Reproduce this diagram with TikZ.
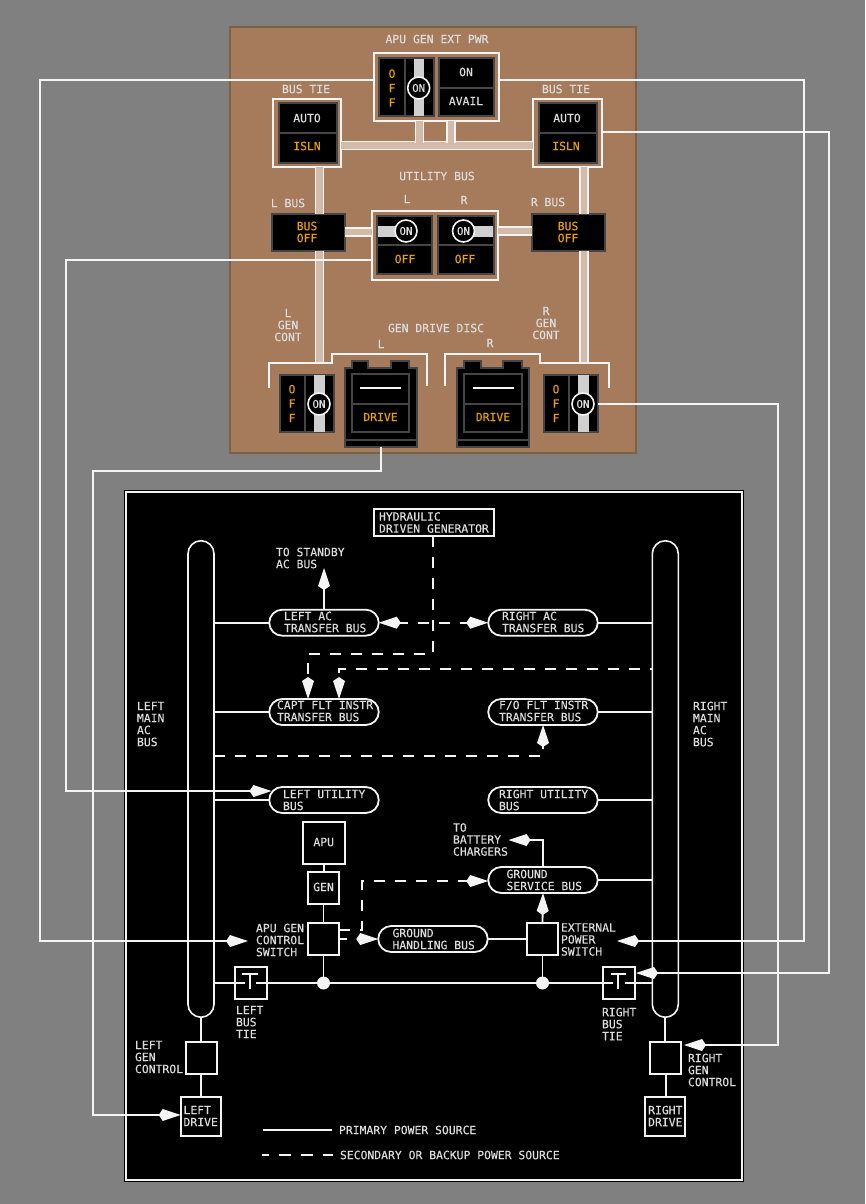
\documentclass[tikz,border=0pt]{standalone}
\usepackage{fontspec}
\setmonofont[FakeBold=0.25]{DejaVu Sans Mono}
\usetikzlibrary{arrows.meta,calc}
\definecolor{bggray}{HTML}{808080}
\definecolor{brownpanel}{HTML}{A67B5B}
\definecolor{brownedge}{HTML}{7D6143}
\definecolor{tanbeam}{HTML}{D2BBA8}
\definecolor{wline}{HTML}{F4F4F4}
\definecolor{ltext}{HTML}{DCDCDC}
\definecolor{amber}{HTML}{E8A000}
\definecolor{darkb}{HTML}{454545}
\definecolor{barg}{HTML}{CFCFCF}
\tikzset{
  x=1pt,y=-1pt,
  txt/.style={font=\ttfamily\fontsize{11.4}{12}\selectfont,text=ltext,inner sep=0pt,outer sep=0pt,align=left},
  ptxt/.style={txt,text=ltext,align=center},
  atxt/.style={txt,text=amber,align=center},
  wbox/.style={draw=wline,line width=2pt,inner sep=0pt,outer sep=0pt,minimum width=#1},
  wbox/.default=30,
  pill/.style={draw=wline,line width=1.8pt,rounded corners=13pt,minimum width=109.5,minimum height=26,inner sep=0pt,outer sep=0pt},
  mainbus/.style={draw=wline,line width=1.6pt,rounded corners=13pt,minimum width=26,minimum height=476.5,inner sep=0pt,outer sep=0pt},
  sw/.style={draw=darkb,fill=black,line width=2pt,inner sep=0pt,outer sep=0pt},
  knob/.style={circle,draw=wline,fill=black,line width=1.6pt,minimum size=22,inner sep=0pt,outer sep=0pt,font=\ttfamily\fontsize{10.8}{12}\selectfont,text=ltext},
  wire/.style={draw=wline,line width=1.8pt},
  ghost/.style={dash pattern=on 11pt off 10pt,draw=wline,line width=1.8pt},
  kt/.style={-{Kite[length=22pt,width=12pt,inset=4pt,fill=wline]}},
  ktb/.style={{Kite[length=22pt,width=12pt,inset=4pt,fill=wline]}-{Kite[length=22pt,width=12pt,inset=4pt,fill=wline]}},
  beam/.style={draw=wline,double=tanbeam,line width=1.4pt,double distance=6.6pt},
  dark/.style={draw=darkb,line width=2pt},
  bar/.style={fill=barg,draw=none},
  junction/.style={circle,fill=wline,draw=none,minimum size=13,inner sep=0pt,outer sep=0pt}
}
\begin{document}
\begin{tikzpicture}
\useasboundingbox (0,0) rectangle (865,1204);
\fill[bggray] (0,0) rectangle (865,1204);
% brown panel
\node[draw=brownedge,fill=brownpanel,line width=2pt,minimum width=406,minimum height=426,inner sep=0pt] (panel) at (433,240) {};
% black panel
\node[draw=black,fill=black,line width=1pt,minimum width=619,minimum height=691,inner sep=0pt] (blackp) at (434,836) {};
\node[draw=wline,line width=2pt,minimum width=616,minimum height=688,inner sep=0pt] (blackf) at (434,836) {};

% ---------- top panel: frames
\node[wbox,minimum width=125,minimum height=68] (apuframe) at (436.3,87.5) {};
\node[wbox,minimum width=68,minimum height=68] (ltieframe) at (307,133) {};
\node[wbox,minimum width=69,minimum height=68] (rtieframe) at (567,133) {};
\node[wbox,minimum width=126,minimum height=69] (utilframe) at (435,245.5) {};
\node[sw,minimum width=73,minimum height=37] (lbus) at (308,232) {};
\node[sw,minimum width=73,minimum height=37] (rbus) at (568,232) {};
% beams
\draw[beam] (ltieframe.east |- 0,145.5) -- (rtieframe.west |- 0,145.5);
\coordinate (stubA) at (419.5,145.5);
\coordinate (stubB) at (451,145.5);
\draw[beam] (stubA |- apuframe.south) -- (stubA);
\draw[beam] (stubB |- apuframe.south) -- (stubB);
\fill[tanbeam] (341.5,143) rectangle (532,148.5);
\fill[tanbeam] (416.5,122) rectangle (422.5,148.5);
\fill[tanbeam] (448,122) rectangle (454,148.5);
\coordinate (lbeamEnd) at (319.2,362);
\coordinate (rbeamEnd) at (583.8,362);
\draw[beam] (lbeamEnd |- ltieframe.south) -- (lbeamEnd |- lbus.north);
\draw[beam] (lbeamEnd |- lbus.south) -- (lbeamEnd);
\draw[beam] (rbeamEnd |- rtieframe.south) -- (rbeamEnd |- rbus.north);
\draw[beam] (rbeamEnd |- rbus.south) -- (rbeamEnd);
\draw[beam] (lbus.east |- 0,232) -- (utilframe.west |- 0,232);
\draw[beam] (rbus.west |- 0,231) -- (utilframe.east |- 0,231);

% APU switch
\node[sw,minimum width=55,minimum height=58] (apusw) at (406,87.5) {};
\node[sw,minimum width=55,minimum height=58] (extsw) at (466,87.5) {};
\fill[bar] (413.5,59) rectangle (424,116.5);
\draw[dark] (405,58.5) -- (405,116.5);
\draw[dark] (extsw.west |- 0,88) -- (extsw.east |- 0,88);
\node[knob] (apuknob) at (418.7,88) {ON};
\node[atxt] (off1) at (392,88) {O\\[2.5pt]F\\[2.5pt]F};
\node[ptxt] (extOn) at (466,72) {ON};
\node[ptxt] (extAv) at (466,101) {AVAIL};
\node[ptxt] (lapu) at (437,39) {APU GEN EXT PWR};

% bus ties
\node[sw,minimum width=58,minimum height=59] (ltie) at (307.5,133) {};
\draw[dark] (ltie.west |- 0,133) -- (ltie.east |- 0,133);
\node[ptxt] (lauto) at (307,118) {AUTO};
\node[atxt] (lisln) at (307,146) {ISLN};
\node[sw,minimum width=58,minimum height=59] (rtie) at (567.5,133) {};
\draw[dark] (rtie.west |- 0,133) -- (rtie.east |- 0,133);
\node[ptxt] (rauto) at (567,118) {AUTO};
\node[atxt] (risln) at (566,146) {ISLN};
\node[ptxt] (ltl) at (306,89) {BUS TIE};
\node[ptxt] (rtl) at (566,89) {BUS TIE};

% utility bus
\node[ptxt] (utl) at (437,176) {UTILITY BUS};
\node[ptxt] (ull) at (407,199) {L};
\node[ptxt] (url) at (464,200) {R};
\node[ptxt] (lbl) at (288,203) {L BUS};
\node[ptxt] (rbl) at (548,202) {R BUS};
\node[atxt] (lbt) at (307,232) {BUS\\OFF};
\node[atxt] (rbt) at (568,232) {BUS\\OFF};
\node[sw,minimum width=55,minimum height=58] (usl) at (404.7,245.3) {};
\node[sw,minimum width=56,minimum height=58] (usr) at (466,245.3) {};
\fill[bar] (378,226) rectangle (406,237);
\fill[bar] (463,226) rectangle (492.5,237);
\draw[dark] (usl.west |- 0,245) -- (usl.east |- 0,245);
\draw[dark] (usr.west |- 0,245) -- (usr.east |- 0,245);
\node[knob] (kl) at (406,231) {ON};
\node[knob] (kr) at (463.5,231) {ON};
\node[atxt] (ofl) at (405,259) {OFF};
\node[atxt] (ofr) at (465,259) {OFF};

% gen controls
\node[ptxt] (lgc) at (288,325) {L\\GEN\\CONT};
\node[ptxt] (rgc) at (546,323) {R\\GEN\\CONT};
\node[ptxt] (gdd) at (436,328) {GEN DRIVE DISC};
\node[ptxt] (gl) at (381,344) {L};
\node[ptxt] (gr) at (490,343) {R};
\draw[draw=wline,line width=1.8pt] (269,388) -- (269,363) -- (333,363);
\draw[draw=wline,line width=1.8pt] (332,363) -- (332,354) -- (427,354) -- (427,386);
\draw[draw=wline,line width=1.8pt] (445,386) -- (445,354) -- (540,354) -- (540,363) -- (609,363) -- (609,388);
\node[sw,minimum width=54,minimum height=57] (lgs) at (306.5,403.3) {};
\fill[bar] (314,375) rectangle (325,431.5);
\draw[dark] (305,374) -- (305,432);
\node[knob] (klg) at (319,404) {ON};
\node[atxt] (lgo) at (292,403.5) {O\\[2.5pt]F\\[2.5pt]F};
\node[sw,minimum width=54,minimum height=57] (rgs) at (571,403.3) {};
\fill[bar] (578.3,375) rectangle (589,431.5);
\draw[dark] (569,374) -- (569,432);
\node[knob] (krg) at (583,404) {ON};
\node[atxt] (rgo) at (556,403.5) {O\\[2.5pt]F\\[2.5pt]F};

% drive units
\node[sw,minimum width=16,minimum height=10] (lt1) at (360,366) {};
\node[sw,minimum width=18,minimum height=10] (lt2) at (400,366) {};
\node[sw,minimum width=72,minimum height=78.5] (ldrv) at (380.7,407.5) {};
\fill[black] (353,366) rectangle (367,371) (392,366) rectangle (408,371);
\node[sw,minimum width=57,minimum height=58] (ldi) at (380.5,403) {};
\draw[dark] (ldrv.west |- 0,440) -- (ldrv.east |- 0,440);
\draw[dark] (ldi.west |- 0,404) -- (ldi.east |- 0,404);
\draw[draw=wline,line width=2pt] (360,388) -- (401,388);
\node[atxt] (ldt) at (380.5,417) {DRIVE};
\node[sw,minimum width=17,minimum height=10] (rt1) at (472.5,366) {};
\node[sw,minimum width=19,minimum height=10] (rt2) at (512.5,366) {};
\node[sw,minimum width=72,minimum height=78.5] (rdrv) at (493,407.5) {};
\fill[black] (465,366) rectangle (480,371) (504,366) rectangle (521,371);
\node[sw,minimum width=58,minimum height=58] (rdi) at (493,403) {};
\draw[dark] (rdrv.west |- 0,440) -- (rdrv.east |- 0,440);
\draw[dark] (rdi.west |- 0,404) -- (rdi.east |- 0,404);
\draw[draw=wline,line width=2pt] (473,388) -- (514,388);
\node[atxt] (rdt) at (493,417) {DRIVE};

% ---------- lower diagram
\node[mainbus] (lmain) at (201,779) {};
\node[mainbus] (rmain) at (665.3,779) {};
\node[wbox,minimum width=120,minimum height=27] (hyd) at (433.7,522.7) {};
\node[txt,anchor=west] (hydt) at (379,522.5) {HYDRAULIC\\DRIVEN GENERATOR};
\node[pill] (lac) at (324,622.7) {};
\node[pill] (rac) at (543,622.7) {};
\node[pill] (capt) at (324,712) {};
\node[pill] (fo) at (543,712) {};
\node[pill] (lut) at (324,800) {};
\node[pill] (rut) at (543,800) {};
\node[pill] (gsb) at (543,880) {};
\node[pill] (ghb) at (433,939) {};
\node[txt,anchor=west] at (284,622) {LEFT AC\\TRANSFER BUS};
\node[txt,anchor=west] at (502,622) {RIGHT AC\\TRANSFER BUS};
\node[txt,anchor=west] at (277,711) {CAPT FLT INSTR\\TRANSFER BUS};
\node[txt,anchor=west] at (499,711) {F/O FLT INSTR\\TRANSFER BUS};
\node[txt,anchor=west] at (283,800) {LEFT UTILITY\\BUS};
\node[txt,anchor=west] at (499,800) {RIGHT UTILITY\\BUS};
\node[txt,anchor=west] at (506.5,880) {GROUND\\SERVICE BUS};
\node[txt,anchor=west] at (392.5,939) {GROUND\\HANDLING BUS};
\node[txt,anchor=west] (lma) at (137,724) {LEFT\\MAIN\\AC\\BUS};
\node[txt,anchor=west] (rma) at (693,724) {RIGHT\\MAIN\\AC\\BUS};
\node[txt,anchor=west] (stby) at (276,558) {TO STANDBY\\AC BUS};
\node[txt,anchor=west] (bat) at (453,839.5) {TO\\BATTERY\\CHARGERS};
\node[wbox,minimum width=42.5,minimum height=42] (apu) at (324,843) {};
\node[txt] at (323.7,842) {APU};
\node[wbox,minimum width=31.5,minimum height=32] (gen) at (323.5,888) {};
\node[txt] at (323.5,887) {GEN};
\node[wbox,minimum width=31.5,minimum height=32] (apusw2) at (323.5,939) {};
\node[wbox,minimum width=31.5,minimum height=32] (extsw2) at (542.5,939) {};
\node[txt,anchor=west] (apul) at (256,940) {APU GEN\\CONTROL\\SWITCH};
\node[txt,anchor=west] (extl) at (561,939.5) {EXTERNAL\\POWER\\SWITCH};
\node[junction] (jl) at (323.5,983) {};
\node[junction] (jr) at (542.5,983) {};
\node[wbox,minimum width=32,minimum height=32.5] (ltb) at (250.7,983) {};
\node[wbox,minimum width=32,minimum height=32.5] (rtb) at (618.7,983) {};
\node[txt,anchor=west] (ltbl) at (236,1022) {LEFT\\BUS\\TIE};
\node[txt,anchor=west] (rtbl) at (602,1024) {RIGHT\\BUS\\TIE};
\node[wbox,minimum width=31,minimum height=32] (lgcb) at (201.2,1058) {};
\node[wbox,minimum width=31,minimum height=32] (rgcb) at (665.7,1058) {};
\node[txt,anchor=west] (lgcl) at (135,1057) {LEFT\\GEN\\CONTROL};
\node[txt,anchor=west] (rgcl) at (688,1070) {RIGHT\\GEN\\CONTROL};
\node[wbox,minimum width=40,minimum height=39.5] (ldbox) at (200.7,1116.5) {};
\node[wbox,minimum width=40,minimum height=39.5] (rdbox) at (665.3,1116.5) {};
\node[txt] at (200.7,1116) {LEFT\\DRIVE};
\node[txt] at (665.3,1116) {RIGHT\\DRIVE};
\node[txt,anchor=west] (leg1) at (339,1130) {PRIMARY POWER SOURCE};
\node[txt,anchor=west] (leg2) at (340,1155) {SECONDARY OR BACKUP POWER SOURCE};
\coordinate (leg1s) at (263,1130);
\coordinate (leg2s) at (262,1155);
\coordinate (leg2e) at (332.5,1155);

% primary connectors
\draw[wire] (lmain.east |- lac.west) -- (lac.west);
\draw[wire] (rac.east) -- (rmain.west |- rac.east);
\draw[wire] (lmain.east |- capt.west) -- (capt.west);
\draw[wire] (fo.east) -- (rmain.west |- fo.east);
\draw[wire] (lmain.east |- lut.west) -- (lut.west);
\draw[wire] (rut.east) -- (rmain.west |- rut.east);
\draw[wire] (gsb.east) -- (rmain.west |- gsb.east);
\draw[wire,kt] (lac.north) -- (lac.north |- 0,568);
\draw[wire] (apu.south) -- (apu.south |- gen.north);
\draw[wire] (gen.south) -- (apusw2.north);
\draw[wire] (apusw2.south) -- (jl);
\draw[wire] (extsw2.south) -- (jr);
\draw[wire] (ghb.east) -- (extsw2.west);
\draw[wire,kt] (extsw2.north) -- (gsb.south);
\coordinate (batturn) at (543,840);
\draw[wire,kt] (gsb.north) -- (batturn) -- (508.5,840);
\draw[wire] (lmain.east |- jl) -- (245,983);
\draw[wire] (256,983) -- (jl);
\draw[wire] (jl) -- (jr);
\draw[wire] (jr) -- (612.7,983);
\draw[wire] (625,983) -- (rmain.west |- jr);
\draw[draw=wline,line width=1.8pt] (242,974) -- (258,974) (250,974) -- (250,989);
\draw[draw=wline,line width=1.8pt] (610.5,974) -- (626,974) (618.3,974) -- (618.3,989);
\draw[wire] (lmain.south) -- (lgcb.north -| lmain.south);
\draw[wire] (lgcb.south) -- (ldbox.north -| lgcb.south);
\draw[wire] (rmain.south) -- (rgcb.north -| rmain.south);
\draw[wire] (rgcb.south) -- (rdbox.north -| rgcb.south);
\draw[wire] (leg1s) -- (332,1130);
\draw[ghost,dash pattern=on 12pt off 10pt,dash phase=5.3pt] (leg2s) -- (leg2e);

% secondary connectors
\coordinate (hydd) at (433,654);
\coordinate (capta) at (308,654);
\coordinate (captb) at (339,669);
\coordinate (lacd) at (214,756);
\coordinate (fod) at (543,756);
\coordinate (gsbd) at (362,881);
\coordinate (apud) at (362,930);
\draw[ghost,kt] (hyd.south -| hydd) -- (hydd) -- (capta) -- (capta |- capt.north);
\draw[ghost,dash phase=9pt,kt] (rmain.west |- captb) -- (captb) -- (captb |- capt.north);
\draw[ghost,dash phase=3pt,ktb] (lac.east) -- (rac.west);
\draw[ghost,kt] (lmain.east |- lacd) -- (fod) -- (fo.south);
\draw[ghost,kt] (apusw2.east |- apud) -- (apud) -- (gsbd) -- (gsb.west |- gsbd);
\draw[ghost,dash phase=3pt,kt] (apusw2.east |- ghb.west) -- (ghb.west);

% remote wires
\coordinate (w1a) at (40,80);
\coordinate (w1b) at (40,941);
\coordinate (w2a) at (804,80);
\coordinate (w2b) at (804,941);
\coordinate (w3a) at (829,132);
\coordinate (w3b) at (829,973);
\coordinate (w4a) at (778,404);
\coordinate (w4b) at (778,1045);
\coordinate (w5a) at (66,260);
\coordinate (w5b) at (66,791);
\coordinate (w6a) at (381,471);
\coordinate (w6b) at (93,471);
\coordinate (w6c) at (93,1115);
\draw[wire,kt] (apuframe.west |- w1a) -- (w1a) -- (w1b) -- (248,941);
\draw[wire,kt] (apuframe.east |- w2a) -- (w2a) -- (w2b) -- (617,941);
\draw[wire,kt] (rtieframe.east |- w3a) -- (w3a) -- (w3b) -- (636,973);
\draw[wire,kt] (rgs.east |- w4a) -- (w4a) -- (w4b) -- (684,1045);
\draw[wire,kt] (utilframe.west |- w5a) -- (w5a) -- (w5b) -- (271.5,791);
\draw[wire,kt] (w6a |- ldrv.south) -- (w6a) -- (w6b) -- (w6c) -- (ldbox.west |- w6c);
\end{tikzpicture}
\end{document}
